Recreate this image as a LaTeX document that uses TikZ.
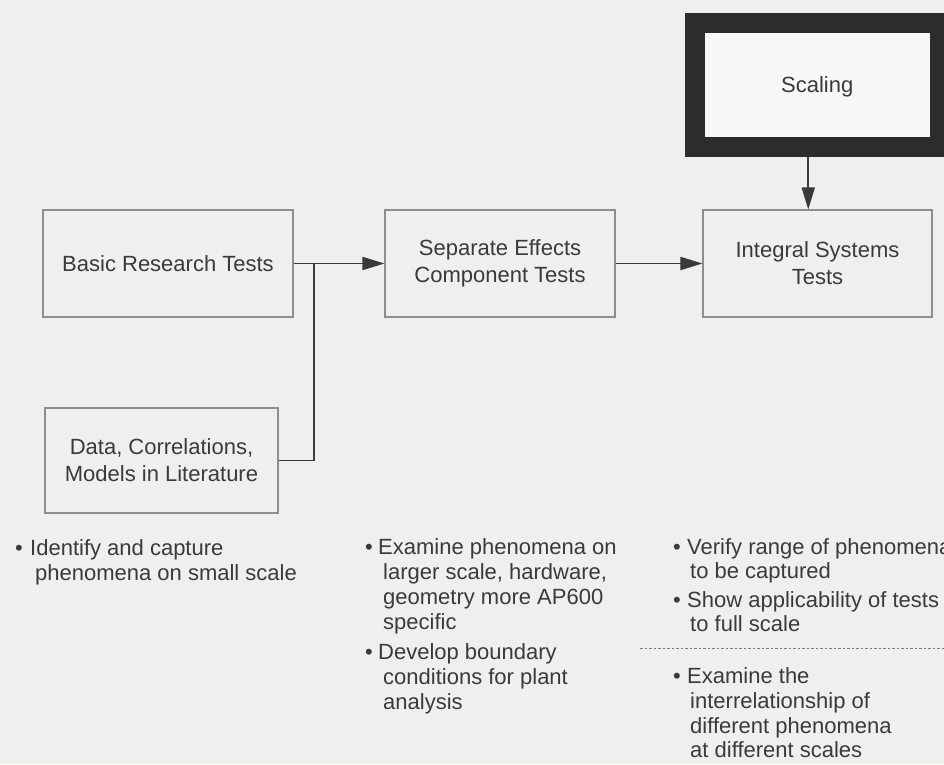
\documentclass[tikz,border=0pt]{standalone}
\usepackage{fontspec}
\setmainfont{Liberation Sans}
\usetikzlibrary{arrows.meta}
\definecolor{paper}{HTML}{EFEFED}
\definecolor{card}{HTML}{F7F7F5}
\definecolor{ink}{HTML}{3A3A3A}
\definecolor{frame}{HTML}{8E8E8E}
\definecolor{band}{HTML}{2C2C2C}
\definecolor{rulegray}{HTML}{7A7A7A}
\begin{document}
\begin{tikzpicture}[x=1pt,y=-1pt,
  stagebox/.style={draw=frame, line width=1.1pt, fill=paper, inner sep=0pt,
    align=center, text=ink, font=\fontsize{22}{27}\selectfont},
  link/.style={draw=ink, line width=1.8pt},
  flow/.style={link, -{Triangle[length=22pt,width=13pt]}},
  note/.style={anchor=base west, inner sep=0pt, text=ink,
    font=\fontsize{22}{25}\selectfont},
]
\fill[paper] (0,0) rectangle (944,764);
\useasboundingbox (0,0) rectangle (944,764);

% stages of the test programme
\node[stagebox, minimum width=250pt, minimum height=107pt] (basic) at (168,263.5) {Basic Research Tests};
\node[stagebox, minimum width=230pt, minimum height=107pt] (sep) at (500,263.5) {Separate Effects\\Component Tests};
\node[stagebox, minimum width=229pt, minimum height=107pt] (integral) at (817.5,263.5) {Integral Systems\\Tests};
\node[stagebox, minimum width=233pt, minimum height=105pt] (data) at (161.5,460.5) {Data, Correlations,\\Models in Literature};

% scaling box with its heavy frame
\node[draw=band, line width=20pt, fill=card, minimum width=245.5pt, minimum height=124.5pt,
  inner sep=0pt, text depth=0pt, text=ink, font=\fontsize{22}{27}\selectfont] (scaling) at (817.25,84.75) {Scaling};

% connectors
\coordinate (tee) at (314,263.5);
\draw[flow] (basic.east) -- (sep.west);
\draw[link] (data.east) -| (tee);
\draw[flow] (sep.east) -- (integral.west);
\draw[flow] ([xshift=-9pt]scaling.south) -- ([xshift=-9pt]scaling.south |- integral.north);

% notes under the first stage
\node[note] (b11) at (15,555) {•};
\node[note] (t11) at (30,555) {Identify and capture};
\node[note] (t12) at (35,580) {phenomena on small scale};

% notes under the second stage
\node[note] (b21) at (365,554) {•};
\node[note] (t21) at (378,554) {Examine phenomena on};
\node[note] (t22) at (383,579) {larger scale, hardware,};
\node[note] (t23) at (383,604) {geometry more AP600};
\node[note] (t24) at (383,629) {specific};
\node[note] (b22) at (365,659) {•};
\node[note] (t25) at (378,659) {Develop boundary};
\node[note] (t26) at (383,684) {conditions for plant};
\node[note] (t27) at (383,709) {analysis};

% notes under the third stage
\node[note] (b31) at (673,554) {•};
\node[note] (t31) at (687,554) {Verify range of phenomena};
\node[note] (t32) at (690,578) {to be captured};
\node[note] (b32) at (673,607) {•};
\node[note] (t33) at (687,607) {Show applicability of tests};
\node[note] (t34) at (690,631) {to full scale};
\coordinate (rule-a) at (640,648);
\coordinate (rule-b) at (944,648);
\draw[rulegray, line width=1pt, dash pattern=on 2.5pt off 2pt] (rule-a) -- (rule-b);
\node[note] (b33) at (673,683) {•};
\node[note] (t35) at (687,683) {Examine the};
\node[note] (t36) at (690,708) {interrelationship of};
\node[note] (t37) at (690,733) {different phenomena};
\node[note] (t38) at (690,757) {at different scales};
\end{tikzpicture}
\end{document}
